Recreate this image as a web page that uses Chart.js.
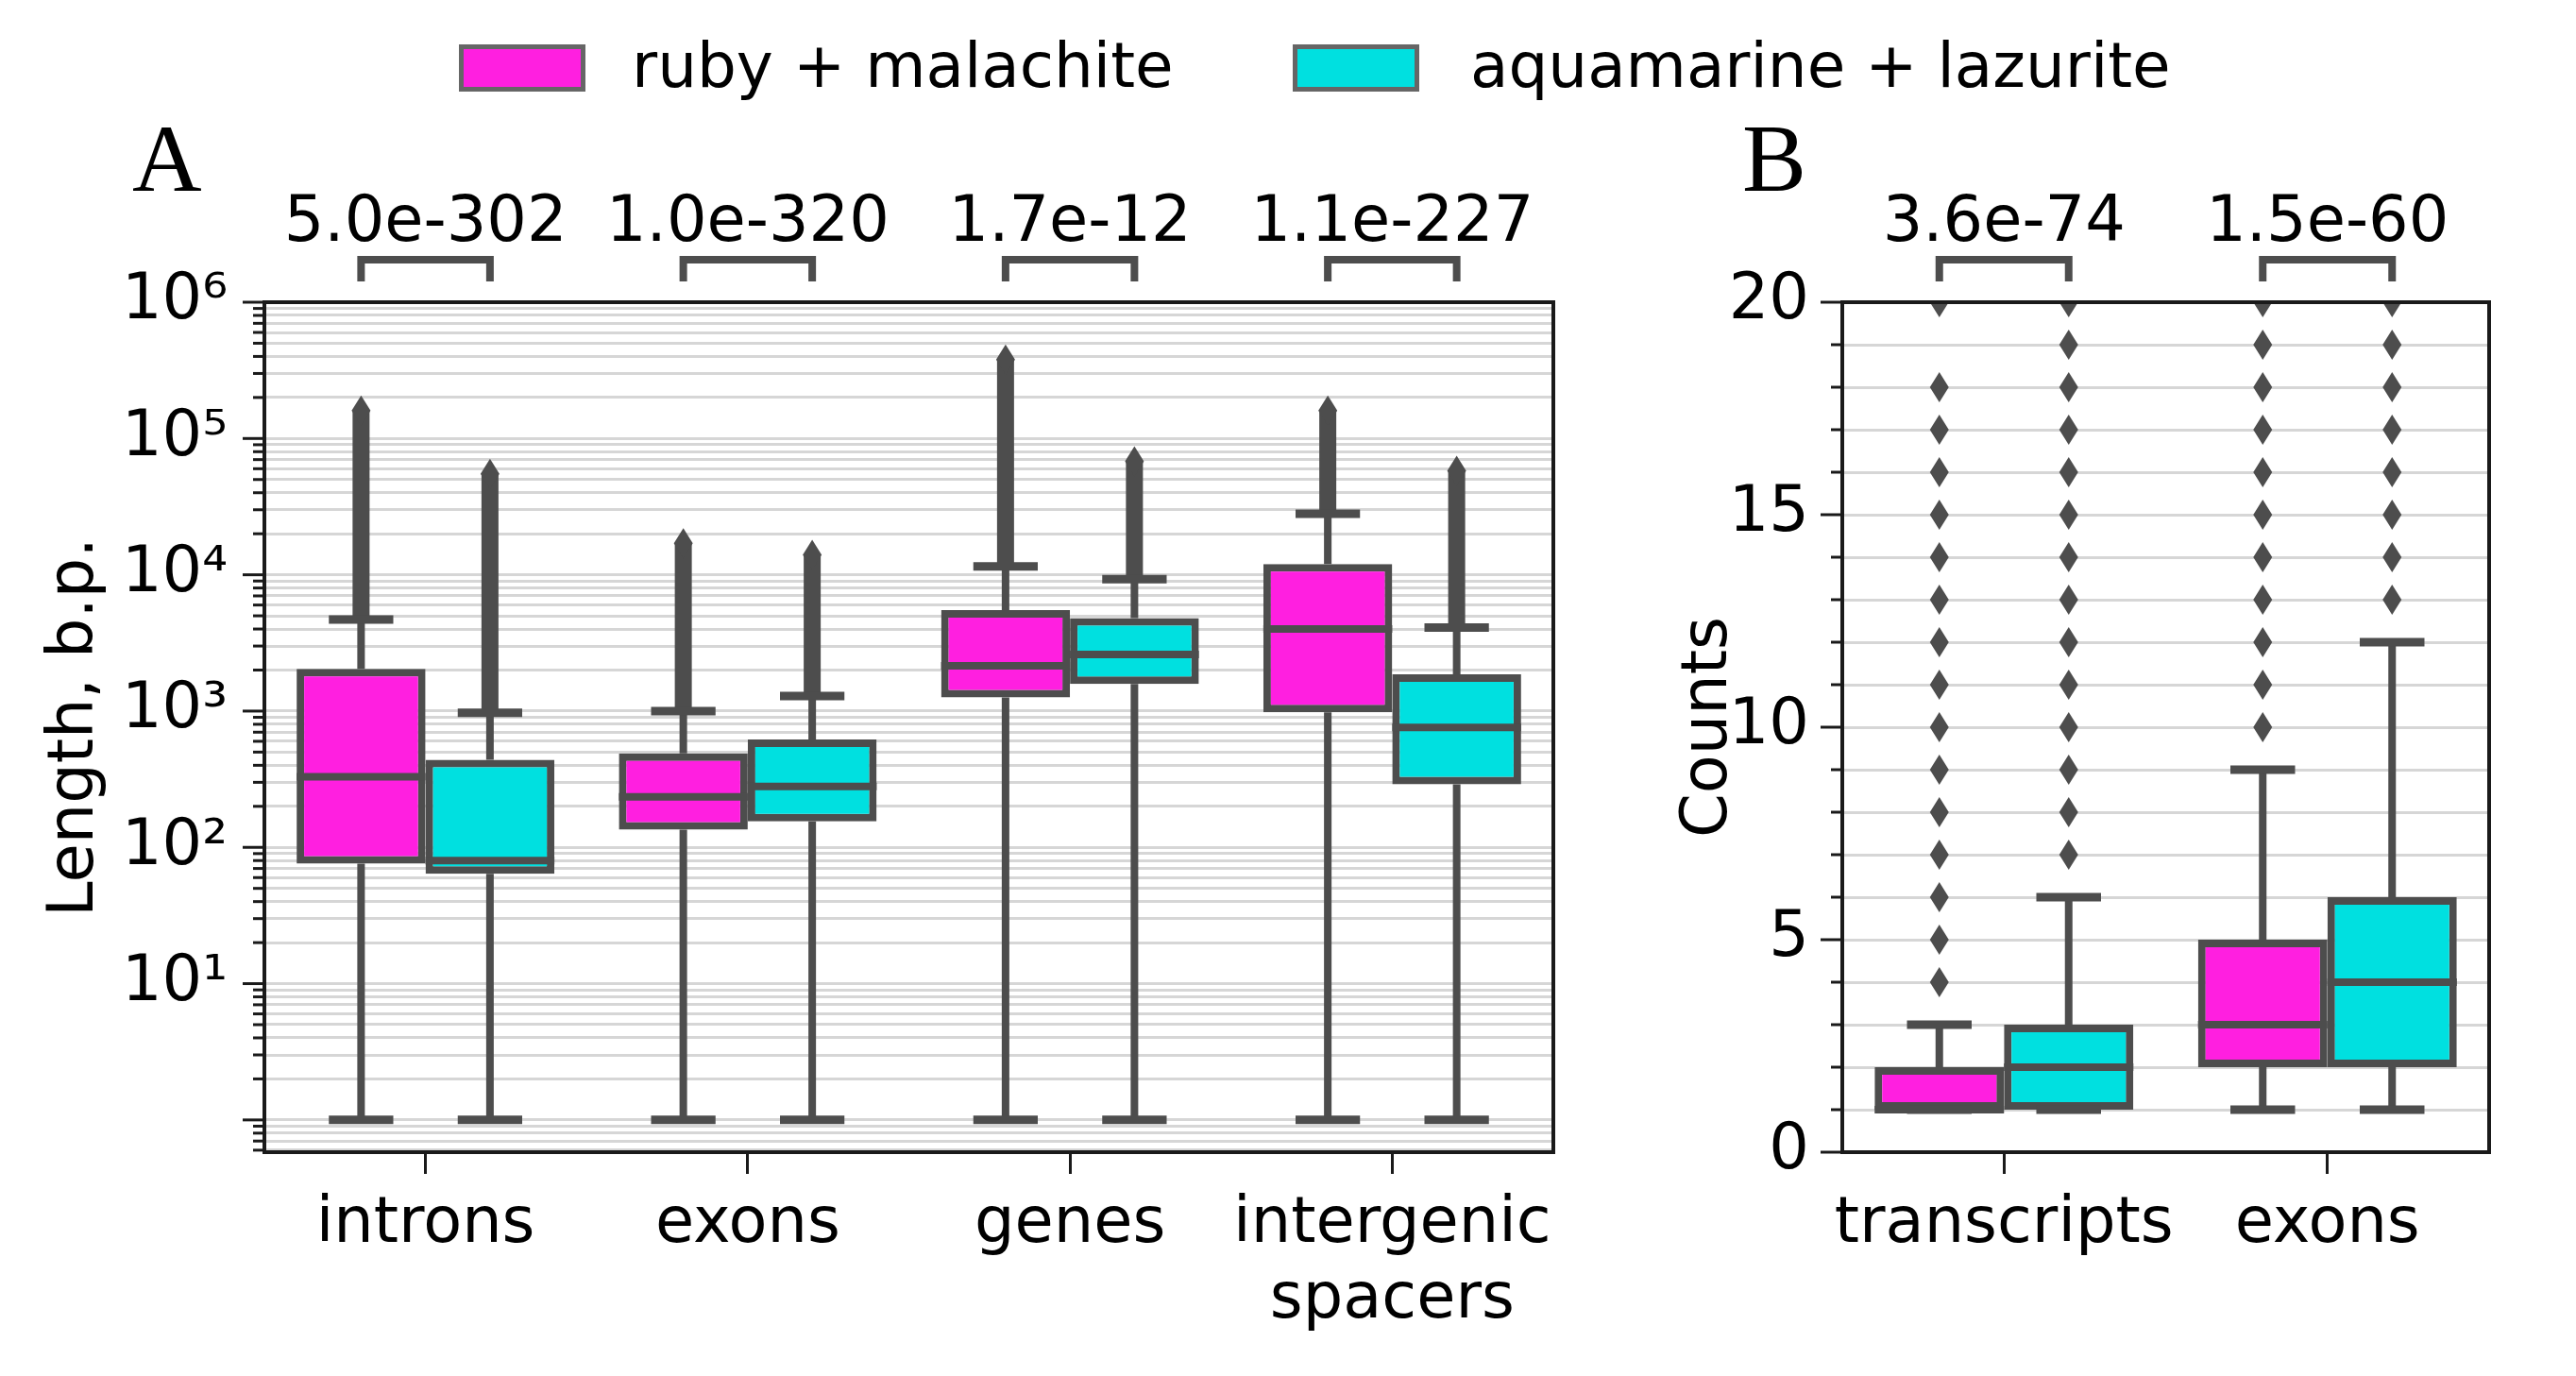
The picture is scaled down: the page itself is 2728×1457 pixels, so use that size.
<!DOCTYPE html>
<html lang="en">
<head>
    <meta charset="UTF-8">
    <title>Lengths and counts</title>
    <script src="https://cdn.jsdelivr.net/npm/chart.js"></script>
    <style>
        body {
            margin: 0;
            background: white;
            font-family: 'DejaVu Sans', sans-serif;
        }

        .page {
            position: relative;
            width: 2728px;
            height: 1457px;
            overflow: hidden;
            background: white;
        }

        canvas {
            position: absolute;
            top: 0;
        }

        .patch {
            position: absolute;
            top: 47px;
            width: 124px;
            height: 40px;
            border: 5px solid #666666;
        }

        .legend-text {
            position: absolute;
            top: 30px;
            font-size: 66px;
            line-height: 80px;
            color: black;
            white-space: nowrap;
        }

        .panel-label {
            position: absolute;
            top: 117px;
            font-family: 'Liberation Serif', 'DejaVu Serif', serif;
            font-size: 102px;
            line-height: 102px;
            color: black;
        }
    </style>
</head>
<body>
    <div class="page">
        <canvas id="chartA" width="1700" height="1457" style="left: 0px;"></canvas>
        <canvas id="chartB" width="1028" height="1457" style="left: 1700px;"></canvas>

        <div class="patch" style="left: 486px; background: #ff1fe0;"></div>
        <div class="legend-text" style="left: 669px;">ruby + malachite</div>
        <div class="patch" style="left: 1369px; background: #00e0e0;"></div>
        <div class="legend-text" style="left: 1557px;">aquamarine + lazurite</div>

        <div class="panel-label" style="left: 140px;">A</div>
        <div class="panel-label" style="left: 1845px;">B</div>
    </div>

    <script>
        // Panel A: lengths (b.p.), log scale
        const lengthCategories = ['introns', 'exons', 'genes', ['intergenic', 'spacers']];
        const lengthPValues = ['5.0e-302', '1.0e-320', '1.7e-12', '1.1e-227'];

        const rubyLenQ1 = [76, 135, 1260, 980];
        const rubyLenMedian = [330, 235, 2150, 4000];
        const rubyLenQ3 = [2040, 490, 5500, 12000];
        const rubyLenWhiskerLow = [1, 1, 1, 1];
        const rubyLenWhiskerHigh = [4700, 1000, 11500, 28000];
        const rubyLenOutlierMax = [160000, 17000, 380000, 160000];

        const aquaLenQ1 = [64, 155, 1580, 290];
        const aquaLenMedian = [80, 280, 2600, 760];
        const aquaLenQ3 = [440, 620, 4800, 1860];
        const aquaLenWhiskerLow = [1, 1, 1, 1];
        const aquaLenWhiskerHigh = [970, 1290, 9300, 4100];
        const aquaLenOutlierMax = [55000, 14000, 68000, 58000];

        // Panel B: counts, linear scale
        const countCategories = ['transcripts', 'exons'];
        const countPValues = ['3.6e-74', '1.5e-60'];

        const rubyCntQ1 = [1, 2];
        const rubyCntMedian = [1, 3];
        const rubyCntQ3 = [2, 5];
        const rubyCntWhiskerLow = [1, 1];
        const rubyCntWhiskerHigh = [3, 9];
        const rubyCntOutliers = [
            [4, 5, 6, 7, 8, 9, 10, 11, 12, 13, 14, 15, 16, 17, 18, 20],
            [10, 11, 12, 13, 14, 15, 16, 17, 18, 19, 20]
        ];

        const aquaCntQ1 = [1, 2];
        const aquaCntMedian = [2, 4];
        const aquaCntQ3 = [3, 6];
        const aquaCntWhiskerLow = [1, 1];
        const aquaCntWhiskerHigh = [6, 12];
        const aquaCntOutliers = [
            [7, 8, 9, 10, 11, 12, 13, 14, 15, 16, 17, 18, 19, 20],
            [13, 14, 15, 16, 17, 18, 19, 20]
        ];

        // axis ticks
        const lenDecades = [1, 10, 100, 1000, 10000, 100000];
        const lenMinorSteps = [2, 3, 4, 5, 6, 7, 8, 9];
        const lenBelowOne = [0.6, 0.7, 0.8, 0.9];
        const lenTop = 1000000;
        const superDigits = ['⁰', '¹', '²', '³', '⁴', '⁵', '⁶'];

        const rubyColor = '#ff1fe0';
        const aquaColor = '#00e0e0';
        const edgeColor = '#4d4d4d';
        const gridColor = '#d6d6d6';
        const tickFont = { family: 'DejaVu Sans', size: 67 };

        function lengthTicks() {
            const values = lenBelowOne.slice();
            lenDecades.forEach(d => {
                values.push(d);
                lenMinorSteps.forEach(m => values.push(m * d));
            });
            values.push(lenTop);
            return values;
        }

        function thinDiamond(ctx, x, y) {
            ctx.beginPath();
            ctx.moveTo(x, y - 16);
            ctx.lineTo(x + 10, y);
            ctx.lineTo(x, y + 16);
            ctx.lineTo(x - 10, y);
            ctx.closePath();
            ctx.fill();
        }

        // whiskers, medians, outliers, brackets, p-values, frame and y tick marks
        const boxExtras = {
            id: 'boxExtras',
            afterDatasetsDraw(chart, args, opts) {
                const ctx = chart.ctx;
                const area = chart.chartArea;
                const y = chart.scales.y;

                ctx.save();
                ctx.beginPath();
                ctx.rect(area.left, area.top, area.right - area.left, area.bottom - area.top);
                ctx.clip();
                ctx.strokeStyle = edgeColor;
                ctx.fillStyle = edgeColor;
                ctx.lineCap = 'butt';

                opts.series.forEach((s, di) => {
                    const meta = chart.getDatasetMeta(di);
                    meta.data.forEach((bar, j) => {
                        const bx = bar.x;
                        const bw = bar.width;
                        const yQ1 = y.getPixelForValue(s.q1[j]);
                        const yQ3 = y.getPixelForValue(s.q3[j]);
                        const yLo = y.getPixelForValue(s.low[j]);
                        const yHi = y.getPixelForValue(s.high[j]);

                        // outliers
                        if (s.outMax) {
                            const yMax = y.getPixelForValue(s.outMax[j]);
                            ctx.lineWidth = 18;
                            ctx.beginPath();
                            ctx.moveTo(bx, yHi);
                            ctx.lineTo(bx, yMax);
                            ctx.stroke();
                            thinDiamond(ctx, bx, yMax);
                        }
                        if (s.outliers) {
                            s.outliers[j].forEach(v => thinDiamond(ctx, bx, y.getPixelForValue(v)));
                        }

                        // whiskers
                        ctx.lineWidth = 8;
                        ctx.beginPath();
                        ctx.moveTo(bx, yQ3);
                        ctx.lineTo(bx, yHi);
                        ctx.moveTo(bx, yQ1);
                        ctx.lineTo(bx, yLo);
                        ctx.stroke();

                        // caps
                        ctx.lineWidth = 9;
                        ctx.beginPath();
                        ctx.moveTo(bx - bw / 4, yHi);
                        ctx.lineTo(bx + bw / 4, yHi);
                        ctx.moveTo(bx - bw / 4, yLo);
                        ctx.lineTo(bx + bw / 4, yLo);
                        ctx.stroke();

                        // median
                        const yMed = y.getPixelForValue(s.median[j]);
                        ctx.lineWidth = 8;
                        ctx.beginPath();
                        ctx.moveTo(bx - bw / 2, yMed);
                        ctx.lineTo(bx + bw / 2, yMed);
                        ctx.stroke();
                    });
                });
                ctx.restore();

                // brackets with p-values
                ctx.save();
                const m0 = chart.getDatasetMeta(0).data;
                const m1 = chart.getDatasetMeta(1).data;
                opts.pValues.forEach((p, j) => {
                    const x1 = m0[j].x;
                    const x2 = m1[j].x;
                    ctx.strokeStyle = edgeColor;
                    ctx.lineWidth = 8;
                    ctx.lineJoin = 'miter';
                    ctx.beginPath();
                    ctx.moveTo(x1, area.top - 22);
                    ctx.lineTo(x1, area.top - 45);
                    ctx.lineTo(x2, area.top - 45);
                    ctx.lineTo(x2, area.top - 22);
                    ctx.stroke();
                    ctx.fillStyle = 'black';
                    ctx.font = '67px "DejaVu Sans"';
                    ctx.textAlign = 'center';
                    ctx.textBaseline = 'alphabetic';
                    ctx.fillText(p, (x1 + x2) / 2, area.top - 65);
                });

                // y tick marks, long for major, short for minor
                ctx.strokeStyle = '#1a1a1a';
                ctx.lineWidth = 3;
                y.ticks.forEach(t => {
                    const py = y.getPixelForValue(t.value);
                    const len = opts.isMajor(t.value) ? 23 : 12;
                    ctx.beginPath();
                    ctx.moveTo(area.left - len, py);
                    ctx.lineTo(area.left, py);
                    ctx.stroke();
                });

                // frame
                ctx.strokeStyle = '#1a1a1a';
                ctx.lineWidth = 4;
                ctx.strokeRect(area.left, area.top, area.right - area.left, area.bottom - area.top);
                ctx.restore();
            }
        };

        function boxDataset(label, color, q1, q3) {
            return {
                label,
                data: q1.map((v, i) => [v, q3[i]]),
                backgroundColor: color,
                borderColor: edgeColor,
                borderWidth: 8,
                borderSkipped: false,
                categoryPercentage: 0.8,
                barPercentage: 1.0
            };
        }

        function xAxis(height) {
            return {
                type: 'category',
                offset: true,
                afterFit(scale) { scale.height = height; },
                grid: {
                    display: true,
                    drawOnChartArea: false,
                    drawTicks: true,
                    tickLength: 23,
                    offset: false,
                    color: '#1a1a1a',
                    lineWidth: 3
                },
                border: { display: false },
                ticks: { color: 'black', font: tickFont, padding: 14, autoSkip: false, maxRotation: 0 }
            };
        }

        // Panel A
        new Chart(document.getElementById('chartA'), {
            type: 'bar',
            data: {
                labels: lengthCategories,
                datasets: [
                    boxDataset('ruby + malachite', rubyColor, rubyLenQ1, rubyLenQ3),
                    boxDataset('aquamarine + lazurite', aquaColor, aquaLenQ1, aquaLenQ3)
                ]
            },
            options: {
                responsive: false,
                animation: false,
                devicePixelRatio: 1,
                layout: { padding: { left: 0, right: 55, top: 320, bottom: 0 } },
                plugins: {
                    legend: { display: false },
                    tooltip: { enabled: false },
                    boxExtras: {
                        pValues: lengthPValues,
                        isMajor: v => lenDecades.includes(v) || v === lenTop,
                        series: [
                            { q1: rubyLenQ1, q3: rubyLenQ3, median: rubyLenMedian, low: rubyLenWhiskerLow, high: rubyLenWhiskerHigh, outMax: rubyLenOutlierMax },
                            { q1: aquaLenQ1, q3: aquaLenQ3, median: aquaLenMedian, low: aquaLenWhiskerLow, high: aquaLenWhiskerHigh, outMax: aquaLenOutlierMax }
                        ]
                    }
                },
                scales: {
                    x: xAxis(237),
                    y: {
                        type: 'logarithmic',
                        min: 0.58,
                        max: lenTop,
                        afterFit(scale) { scale.width = 280; },
                        afterBuildTicks(scale) {
                            scale.ticks = lengthTicks().map(v => ({ value: v }));
                        },
                        grid: { color: gridColor, lineWidth: 3, drawTicks: false },
                        border: { display: false },
                        title: {
                            display: true,
                            text: 'Length, b.p.',
                            color: 'black',
                            font: tickFont,
                            padding: { top: 40, bottom: 0 }
                        },
                        ticks: {
                            color: 'black',
                            font: tickFont,
                            padding: 39,
                            autoSkip: false,
                            callback: (v) => {
                                const k = lenDecades.concat([lenTop]).indexOf(v);
                                return k > 0 ? '10' + superDigits[k] : '';
                            }
                        }
                    }
                }
            },
            plugins: [boxExtras]
        });

        // Panel B
        new Chart(document.getElementById('chartB'), {
            type: 'bar',
            data: {
                labels: countCategories,
                datasets: [
                    boxDataset('ruby + malachite', rubyColor, rubyCntQ1, rubyCntQ3),
                    boxDataset('aquamarine + lazurite', aquaColor, aquaCntQ1, aquaCntQ3)
                ]
            },
            options: {
                responsive: false,
                animation: false,
                devicePixelRatio: 1,
                layout: { padding: { left: 0, right: 92, top: 320, bottom: 0 } },
                plugins: {
                    legend: { display: false },
                    tooltip: { enabled: false },
                    boxExtras: {
                        pValues: countPValues,
                        isMajor: v => v % 5 === 0,
                        series: [
                            { q1: rubyCntQ1, q3: rubyCntQ3, median: rubyCntMedian, low: rubyCntWhiskerLow, high: rubyCntWhiskerHigh, outliers: rubyCntOutliers },
                            { q1: aquaCntQ1, q3: aquaCntQ3, median: aquaCntMedian, low: aquaCntWhiskerLow, high: aquaCntWhiskerHigh, outliers: aquaCntOutliers }
                        ]
                    }
                },
                scales: {
                    x: xAxis(237),
                    y: {
                        type: 'linear',
                        min: 0,
                        max: 20,
                        afterFit(scale) { scale.width = 251; },
                        grid: { color: gridColor, lineWidth: 3, drawTicks: false },
                        border: { display: false },
                        title: {
                            display: true,
                            text: 'Counts',
                            color: 'black',
                            font: tickFont,
                            padding: { top: 70, bottom: 0 }
                        },
                        ticks: {
                            stepSize: 1,
                            color: 'black',
                            font: tickFont,
                            padding: 35,
                            autoSkip: false,
                            callback: (v) => (v % 5 === 0 ? String(v) : '')
                        }
                    }
                }
            },
            plugins: [boxExtras]
        });
    </script>
</body>
</html>
